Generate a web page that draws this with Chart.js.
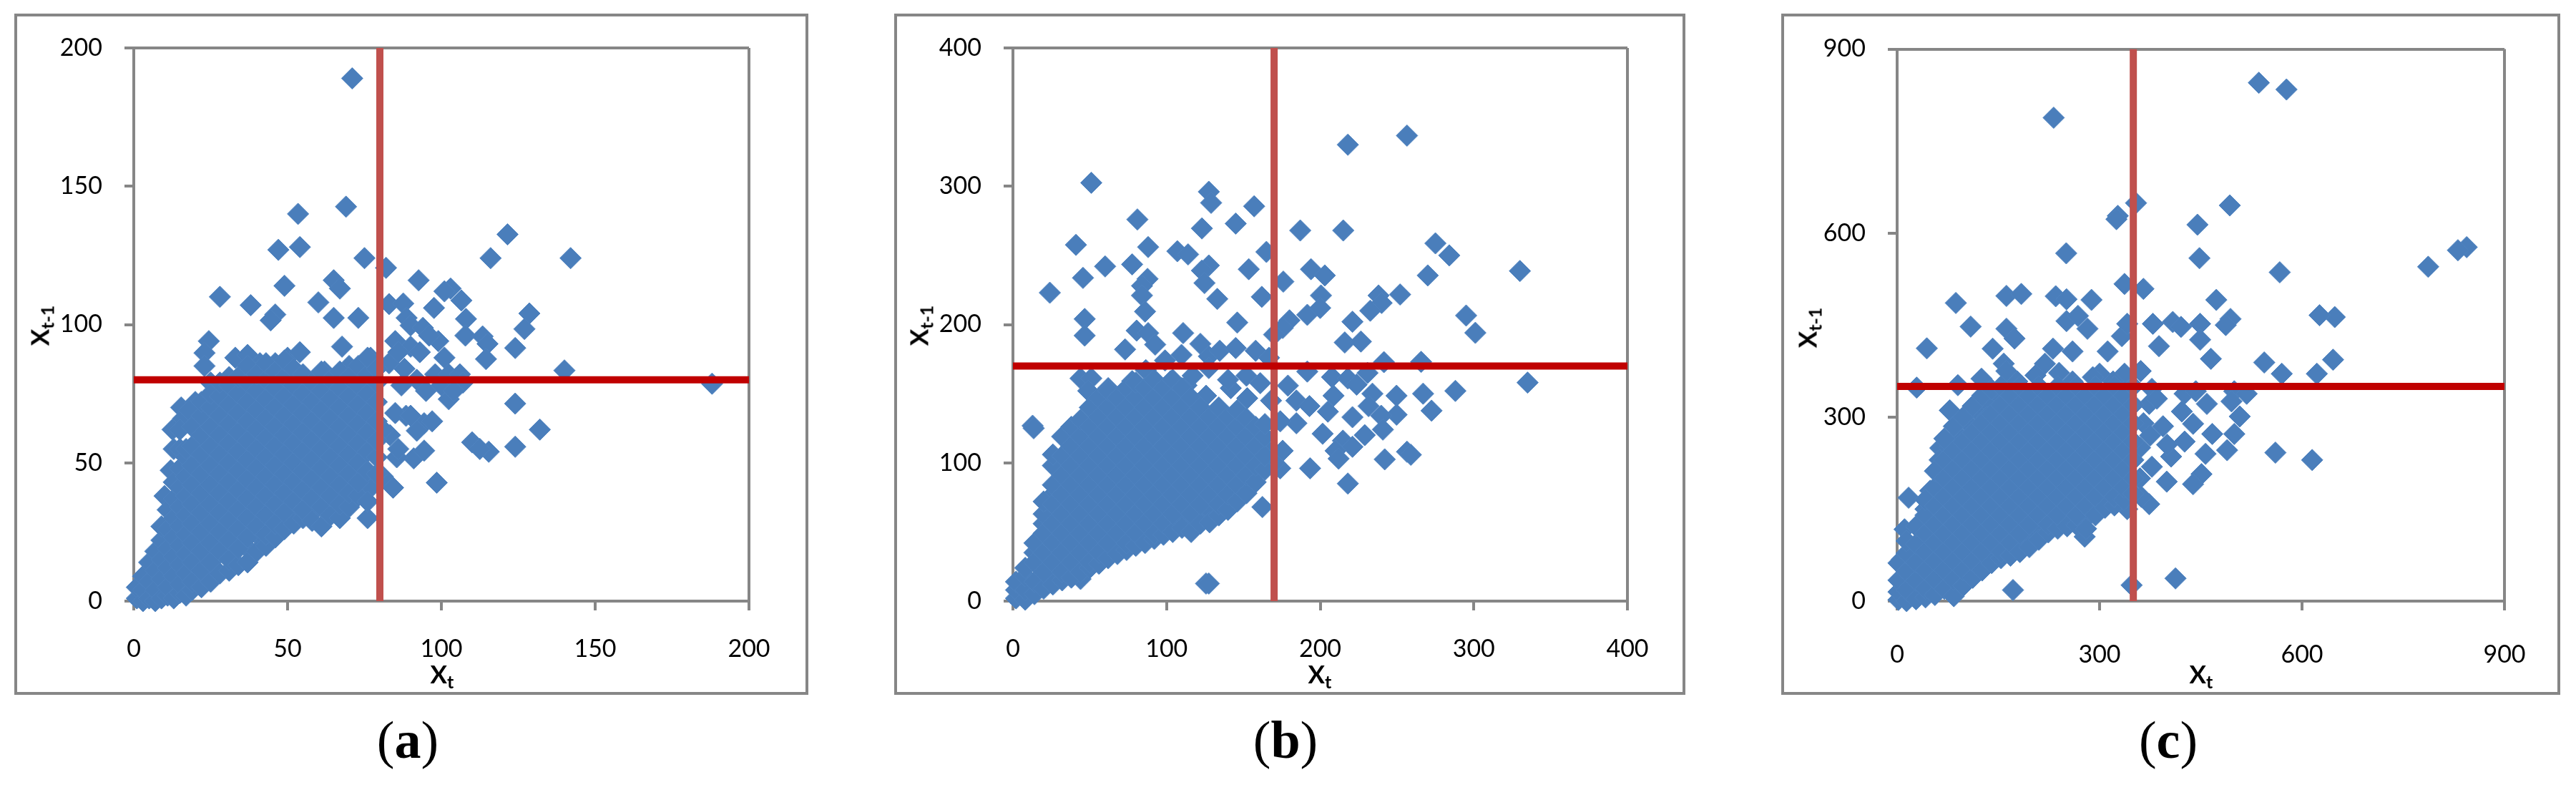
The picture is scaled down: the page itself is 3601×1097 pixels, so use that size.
<!DOCTYPE html>
<html lang="en">
<head>
    <meta charset="UTF-8">
    <title>Lag plots of Xt against Xt-1</title>
    <style>
        body { margin: 0; background: #fff; width: 3601px; height: 1097px; position: relative; overflow: hidden; }
        .frame { position: absolute; box-sizing: border-box; border: 4px solid #868686; }
        .frame canvas { position: absolute; left: 0; top: 0; }
        .label { position: absolute; font: bold 35px Lato, sans-serif; color: #000; white-space: nowrap; transform: translate(-50%, -50%); line-height: 1; }
        .label.rot { transform: translate(-50%, -50%) rotate(-90deg); }
        .label sub { font-size: 25px; vertical-align: -7px; line-height: 0; }
        .caption { position: absolute; font: 74px "Liberation Serif", serif; color: #000; transform: translate(-50%, -50%); line-height: 1; }
    </style>
</head>
<body>
    <div class="frame" id="frameA"><canvas id="chartA"></canvas></div>
    <div class="frame" id="frameB"><canvas id="chartB"></canvas></div>
    <div class="frame" id="frameC"><canvas id="chartC"></canvas></div>

    <div class="label" style="left:618px;top:941px">X<sub>t</sub></div>
    <div class="label rot" style="left:55px;top:455px">X<sub>t-1</sub></div>
    <div class="label" style="left:1845px;top:941px">X<sub>t</sub></div>
    <div class="label rot" style="left:1284px;top:455px">X<sub>t-1</sub></div>
    <div class="label" style="left:3077px;top:941px">X<sub>t</sub></div>
    <div class="label rot" style="left:2526px;top:458px">X<sub>t-1</sub></div>

    <div class="caption" style="left:570px;top:1034px">(<b>a</b>)</div>
    <div class="caption" style="left:1797px;top:1034px">(<b>b</b>)</div>
    <div class="caption" style="left:3031px;top:1034px">(<b>c</b>)</div>

    <script src="https://cdn.jsdelivr.net/npm/chart.js"></script>
    <script>
        // values, [Xt, Xt-1]
        const pointsA = [
            [71,189],[69,142.6],[53.4,140],[121.5,132.6],[47,127],[54,128],[75,124],[116,124],[142,124],[82,120.5],
            [92.6,116],[65,116],[67,113],[49,114],[103,113],[101,112],[106.5,108.7],[28,110],[38,107],[60,108],
            [97.6,106],[83,107.4],[87.6,107.6],[128.6,104],[127,98.4],[46,103.6],[44.5,101.5],[65,102.4],[73,102.4],
            [108,102],[107.8,96],[88.7,102.4],[90,99.7],[94,98.8],[99,94],[113.4,95.7],[115,93],[85,94],[67.7,92],
            [124,91.5],[24.4,94],[23,89.7],[114.5,87.5],[140,83.4],[188,78.6],[124,71.4],[132,62],[124,55.8],[110,57.4],
            [115.4,54],[112.5,55],[98.5,42.8],[84.3,41],[91,51.6],[94.4,54.4],[85.5,52],[102.4,73],[94.4,64.3],[92,61.6],
            [97,65],[88.5,67],[83.3,60],[83,86],[87,78],[85,68],[90,67],[88,84],[92,80],[95,76],[98,82],[101,88],[100,78],
            [102.4,82],[106,82],[107,79],[104,76],[90,92],[86,90],[93,90],[96,96],[81,45],[81,62],[86,55],[33,88],[37,89],
            [41,86],[46,86],[50,88],[54,90],[62,83],[70,85],[74,85],[77,88],[31,81],[23,85],[25,79],
            [15.4,70],[12.6,62],[13,55],[12,47.3],[15,55],[16,66],[20,72],[10,38],[41,23],[38,18],[53,32],[59,33],[77,41],
            [1,1],[1,5],[3,0],[3,4],[3,9],[5,1],[5,7],[5,14],[7,0],[7,4],[7,11],[7,18],[9,1],[9,8],[9,15],[9,22],[9,27],
            [11,2],[11,5],[11,12],[11,19],[11,26],[11,33],[13,1],[13,9],[13,16],[13,23],[13,30],[13,37],[13,43],
            [15,3],[15,6],[15,13],[15,20],[15,27],[15,34],[15,41],[15,48],[15,62],[17,2],[17,10],[17,17],[17,24],[17,31],[17,38],[17,45],[17,52],[17,55],[18,69],
            [19,4],[19,7],[19,14],[19,21],[19,28],[19,35],[19,42],[19,49],[19,56],[19,63],
            [22,5],[22,11],[22,18],[22,25],[22,32],[22,39],[22,46],[22,53],[22,60],[22,67],[22,72],
            [25,7],[25,14],[25,21],[25,28],[25,35],[25,42],[25,49],[25,56],[25,63],[25,70],[25,75],
            [28,10],[28,18],[28,25],[28,32],[28,39],[28,46],[28,53],[28,60],[28,67],[28,74],[28,79],
            [31,11],[31,15],[31,22],[31,29],[31,36],[31,43],[31,50],[31,57],[31,64],[31,71],[31,78],
            [34,13],[34,19],[34,26],[34,33],[34,40],[34,47],[34,54],[34,61],[34,68],[34,75],[34,81],
            [37,14],[37,23],[37,30],[37,37],[37,44],[37,51],[37,58],[37,65],[37,72],[37,79],[37,85],
            [40,18],[40,27],[40,34],[40,41],[40,48],[40,55],[40,62],[40,69],[40,76],[40,82],
            [43,20],[43,24],[43,31],[43,38],[43,45],[43,52],[43,59],[43,66],[43,73],[43,80],[43,86],
            [46,23],[46,28],[46,35],[46,42],[46,49],[46,56],[46,63],[46,70],[46,77],[46,83],
            [49,26],[49,32],[49,39],[49,46],[49,53],[49,60],[49,67],[49,74],[49,81],[49,87],
            [52,28],[52,36],[52,43],[52,50],[52,57],[52,64],[52,71],[52,78],[52,84],
            [55,30],[55,33],[55,40],[55,47],[55,54],[55,61],[55,68],[55,75],[55,82],
            [58,29],[58,37],[58,44],[58,51],[58,58],[58,65],[58,72],[58,79],
            [61,27],[61,34],[61,41],[61,48],[61,55],[61,62],[61,69],[61,76],[61,83],
            [64,31],[64,38],[64,45],[64,52],[64,59],[64,66],[64,73],[64,80],
            [67,30],[67,35],[67,42],[67,49],[67,56],[67,63],[67,70],[67,77],[67,83],
            [70,34],[70,39],[70,46],[70,53],[70,60],[70,67],[70,74],[70,81],
            [73,38],[73,43],[73,50],[73,57],[73,64],[73,71],[73,78],[73,85],
            [76,30],[76,36],[76,47],[76,54],[76,61],[76,68],[76,75],[76,82],[76,88],
            [79,46],[79,52],[79,58],[79,65],[79,72],[79,79],[79,84]
        ];

        const pointsB = [
            [218,330],[256.5,336.6],[51,302.5],[127.5,296],[129,288],[157,285.5],[81,276],[145,273],[123,269.5],[187,268],
            [215,268],[275,258.7],[41,257.6],[88,256],[284,250],[107,253],[114,250.7],[165,252.5],[60,242],[77.6,243.5],
            [45.6,233.7],[87.6,233],[127.5,242.7],[123,239],[153.5,240],[194,240],[203,235.5],[270,235.5],[330,238.7],
            [124.7,230],[176,231],[84,228],[24,223],[84,221],[162,220],[133,218.5],[200.5,221],[252,221.7],[238,221],
            [240,215.6],[232.6,210],[86,209.4],[295,206.5],[301,194],[191.6,207],[200,212],[180,203],[175.6,197.5],
            [170,192.7],[46.7,204],[146,201.4],[221,202],[46.7,192],[80.5,195.6],[88,193.8],[110.8,193.8],[122,186],
            [216,187],[226.5,187.7],[73,182],[92.6,185.5],[109.7,178],[241.5,172.8],[265.7,173],[191.6,166],[207.7,162],
            [230.8,165],[218,161],[223.7,156.5],[288,152],[267,150],[249.7,148.5],[234,150],[208.7,148.5],[231.5,141],
            [272.5,137.7],[249.7,134.8],[221,133],[239.7,134],[205,137],[201.6,121],[240.8,124],[229,120],[214.8,116],
            [221,111.6],[210,108.7],[212,103],[256.5,108],[259,105.8],[242,102.5],[193.4,96],[218,85],[162.4,68],
            [125.7,12.7],[127.5,12.7],[335,158],[12.8,126.8],[13.5,125],[44,161],[51,161],[49,152],[62,154],[70.5,150],
            [77.6,159],[86.5,167],[99,174],[127.5,177],[134.6,181],[145,183],[158,181],[166.7,176],[113,156],[125.7,148.5],
            [141.8,154],[152.5,146.7],[152,163],[161,157.6],[179,155.8],[184.5,145],[193,141],[184.5,128.6],[175.6,108.7],
            [174,96],[174,130],[92,159],[102.6,159],[117,163],[127.5,168.5],[165,110],[170,100],[44,16],[140,160],[168,145],
            [20,15],[26,20],[32,28],[38,22],[44,28],[50,35],[56,42],[62,36],[68,41],[74,48],[80,56],[86,49],[92,56],[98,63],
            [104,56],[110,62],[116,56],[122,63],[128,66],[134,76],[140,84],[146,78],[152,84],[158,92],
            [20,56],[26,77],[32,98],[38,119],[44,126],[62,147],[68,140],[80,154],[14,35],[20,42],[26,63],[32,84],[38,105],
            [2,2],[2,8],[2,14],[8,1],[8,8],[8,18],[8,24],[14,5],[14,14],[14,28],[14,42],
            [20,9],[20,21],[20,35],[20,49],[20,63],[20,72],
            [26,12],[26,28],[26,42],[26,56],[26,70],[26,84],[26,98],[26,106],
            [32,15],[32,21],[32,35],[32,49],[32,63],[32,77],[32,91],[32,105],[32,119],
            [38,17],[38,28],[38,42],[38,56],[38,70],[38,84],[38,98],[38,112],[38,126],
            [44,21],[44,35],[44,49],[44,63],[44,77],[44,91],[44,105],[44,119],[44,131],
            [50,24],[50,28],[50,42],[50,56],[50,70],[50,84],[50,98],[50,112],[50,126],[50,140],
            [56,27],[56,35],[56,49],[56,63],[56,77],[56,91],[56,105],[56,119],[56,133],[56,147],
            [62,31],[62,42],[62,56],[62,70],[62,84],[62,98],[62,112],[62,126],[62,140],[62,152],
            [68,34],[68,49],[68,63],[68,77],[68,91],[68,105],[68,119],[68,133],[68,147],
            [74,37],[74,42],[74,56],[74,70],[74,84],[74,98],[74,112],[74,126],[74,140],[74,154],
            [80,40],[80,49],[80,63],[80,77],[80,91],[80,105],[80,119],[80,133],[80,147],[80,158],
            [86,42],[86,56],[86,70],[86,84],[86,98],[86,112],[86,126],[86,140],[86,154],
            [92,45],[92,49],[92,63],[92,77],[92,91],[92,105],[92,119],[92,133],[92,147],[92,160],
            [98,48],[98,56],[98,70],[98,84],[98,98],[98,112],[98,126],[98,140],[98,154],
            [104,50],[104,63],[104,77],[104,91],[104,105],[104,119],[104,133],[104,147],[104,160],
            [110,53],[110,70],[110,84],[110,98],[110,112],[110,126],[110,140],[110,154],
            [116,50],[116,63],[116,77],[116,91],[116,105],[116,119],[116,133],[116,147],
            [122,56],[122,70],[122,84],[122,98],[122,112],[122,126],[122,140],
            [128,57],[128,77],[128,91],[128,105],[128,119],[128,133],
            [134,62],[134,70],[134,84],[134,98],[134,112],[134,126],[134,140],
            [140,66],[140,77],[140,91],[140,105],[140,119],[140,133],
            [146,72],[146,84],[146,98],[146,112],[146,126],[146,138],
            [152,78],[152,91],[152,105],[152,119],[152,132],
            [158,86],[158,98],[158,112],[158,126],
            [164,95],[164,105],[164,119],[164,128]
        ];

        const pointsC = [
            [536,845],[577,834],[232,788],[354,649],[493,645],[327,628],[325,622.6],[445,613.6],[250.6,567],[448,559],
            [567,536],[844,577],[831,572],[787,545],[648.5,463],[626,466],[494,460],[487,450],[473,491],[449,452],
            [449,426],[465,395],[544,389],[570,370.6],[622,370.6],[646,393.5],[560.6,242],[615,230],[412.5,37],[347.5,26],
            [171.7,18],[337,517],[365,509],[235,497],[251,492],[288,491],[162,497.5],[184,500.7],[87,486],[109,447.5],
            [44,412],[162,444],[174,428],[141.6,411.5],[158,387],[162,375],[125,362.5],[29,348],[90,352],[78,311],
            [64,249.5],[17,168.5],[11,117],[7,68],[251,456.5],[268,465],[282,444],[260,407],[231,411.5],[219,387],
            [312,407],[333,432],[341,452],[379,452],[408.5,455],[420.7,447],[388,415.6],[361,375],[337,370.6],[300,370.6],
            [260,358],[377.5,346],[426,338],[442.6,342],[499.6,342],[518,338],[373.5,321.5],[422,309],[459,321.5],
            [495.5,325.6],[507.7,301],[394,285],[438.6,289],[467,272.5],[499.6,272.5],[489,246],[457,240],[451,207],
            [438.6,190.6],[399.5,194.7],[406,235.6],[377.5,219],[373.5,158],[341,150],[278,105],[426,260],[365,290],[385,330],
            [360,250],[375,270],[360,200],[362,170],[400,255],[205,368],[178,358],[240,372],[290,365],[320,358],
            [14,33],[14,63],[28,18],[28,48],[28,78],[42,35],[42,65],[42,95],[42,125],[56,22],[56,50],[56,80],[70,35],[70,65],[70,95],
            [84,20],[84,50],[84,80],[98,38],[98,65],[112,50],[112,80],[126,65],[140,78],[154,95],[168,110],[182,95],[196,105],
            [210,120],[224,140],[238,130],[252,140],[266,155],[280,135],[294,155],[308,170],[336,175],
            [63,230],[77,250],[91,270],[105,290],[119,310],[133,325],[147,340],[49,180],[42,150],[63,205],[77,225],[91,245],[105,262],[119,280],[133,300],
            [2,2],[2,15],[2,34],[2,62],[14,0],[14,18],[14,48],[14,78],[14,98],
            [28,3],[28,33],[28,63],[28,93],[28,122],
            [42,6],[42,20],[42,50],[42,80],[42,110],[42,140],[42,165],
            [56,10],[56,35],[56,65],[56,95],[56,125],[56,155],[56,185],[56,212],
            [70,20],[70,50],[70,80],[70,110],[70,140],[70,170],[70,200],[70,230],[70,265],
            [84,8],[84,35],[84,65],[84,95],[84,125],[84,155],[84,185],[84,215],[84,245],[84,285],
            [98,25],[98,50],[98,80],[98,110],[98,140],[98,170],[98,200],[98,230],[98,260],[98,300],
            [112,38],[112,65],[112,95],[112,125],[112,155],[112,185],[112,215],[112,245],[112,275],[112,318],
            [126,50],[126,80],[126,110],[126,140],[126,170],[126,200],[126,230],[126,260],[126,290],[126,335],
            [140,62],[140,95],[140,125],[140,155],[140,185],[140,215],[140,245],[140,275],[140,305],[140,345],
            [154,70],[154,80],[154,110],[154,140],[154,170],[154,200],[154,230],[154,260],[154,290],[154,320],[154,350],
            [168,74],[168,95],[168,125],[168,155],[168,185],[168,215],[168,245],[168,275],[168,305],[168,335],
            [182,80],[182,110],[182,140],[182,170],[182,200],[182,230],[182,260],[182,290],[182,320],[182,350],
            [196,88],[196,125],[196,155],[196,185],[196,215],[196,245],[196,275],[196,305],[196,335],
            [210,100],[210,140],[210,170],[210,200],[210,230],[210,260],[210,290],[210,320],[210,350],
            [224,112],[224,125],[224,155],[224,185],[224,215],[224,245],[224,275],[224,305],[224,335],
            [238,118],[238,140],[238,170],[238,200],[238,230],[238,260],[238,290],[238,320],[238,350],
            [252,122],[252,155],[252,185],[252,215],[252,245],[252,275],[252,305],[252,335],
            [266,124],[266,140],[266,170],[266,200],[266,230],[266,260],[266,290],[266,320],[266,350],
            [280,118],[280,155],[280,185],[280,215],[280,245],[280,275],[280,305],[280,335],
            [294,140],[294,170],[294,200],[294,230],[294,260],[294,290],[294,320],[294,350],
            [308,152],[308,185],[308,215],[308,245],[308,275],[308,305],[308,335],
            [322,156],[322,170],[322,200],[322,230],[322,260],[322,290],[322,320],[322,350],
            [336,165],[336,185],[336,215],[336,245],[336,275],[336,305],[336,335],
            [350,175],[350,200],[350,230],[350,260],[350,290],[350,320],[350,350]
        ];

        const axisMaxA = 200, axisMaxB = 400, axisMaxC = 900;
        const tickStepA = 50, tickStepB = 100, tickStepC = 300;
        const meanLineA = 80, meanLineB = 170, meanLineC = 350;

        const GREY = '#868686';
        const TICK_LEN = 13;

        function drawPanel(name, points, axisMax, tickStep, meanLine, frame, plot, xPad) {
            const box = document.getElementById('frame' + name);
            box.style.left = frame.left + 'px';
            box.style.top = frame.top + 'px';
            box.style.width = frame.width + 'px';
            box.style.height = frame.height + 'px';

            const canvas = document.getElementById('chart' + name);
            canvas.width = frame.width - 8;
            canvas.height = frame.height - 8;

            // scale boxes clip their labels, so they have to be roomy
            const yWidth = 125, xHeight = 105;
            const innerLeft = frame.left + 4, innerTop = frame.top + 4;
            const padding = {
                left: plot.left - innerLeft - yWidth,
                top: plot.top - innerTop,
                right: innerLeft + canvas.width - plot.right,
                bottom: innerTop + canvas.height - plot.bottom - xHeight
            };

            // ticks.padding also feeds the scale's own padding, which would squeeze the plot
            function fitAxis(scale, size) {
                scale.paddingLeft = scale.paddingRight = scale.paddingTop = scale.paddingBottom = 0;
                if (scale.isHorizontal()) scale.height = size;
                else scale.width = size;
            }

            function axis(size, tickPad) {
                return {
                    min: 0,
                    max: axisMax,
                    afterFit: s => fitAxis(s, size),
                    border: { color: GREY, width: 4 },
                    grid: {
                        lineWidth: 4,
                        tickLength: TICK_LEN,
                        tickColor: GREY,
                        // only the far edge of the box, no grid inside
                        color: ctx => (ctx.tick && ctx.tick.value === axisMax) ? GREY : 'rgba(0,0,0,0)'
                    },
                    ticks: {
                        stepSize: tickStep,
                        padding: tickPad,
                        autoSkip: false,
                        maxRotation: 0,
                        color: '#000',
                        font: { family: 'Lato', size: 34 }
                    }
                };
            }

            new Chart(canvas, {
                type: 'scatter',
                data: {
                    datasets: [
                        {
                            label: 'Xt-1 threshold',
                            data: [{ x: 0, y: meanLine }, { x: axisMax, y: meanLine }],
                            showLine: true,
                            borderColor: '#C00000',
                            borderWidth: 10,
                            pointRadius: 0,
                            order: 0
                        },
                        {
                            label: 'Xt threshold',
                            data: [{ x: meanLine, y: 0 }, { x: meanLine, y: axisMax }],
                            showLine: true,
                            borderColor: '#C0504D',
                            borderWidth: 10,
                            pointRadius: 0,
                            order: 1
                        },
                        {
                            label: 'Xt vs Xt-1',
                            data: points.map(p => ({ x: p[0], y: p[1] })),
                            pointStyle: 'rectRot',
                            pointRadius: 15,
                            backgroundColor: '#4A7EBB',
                            borderColor: '#4F83C0',
                            borderWidth: 1,
                            clip: false,
                            order: 2
                        }
                    ]
                },
                options: {
                    responsive: false,
                    animation: false,
                    layout: { padding: padding, autoPadding: false },
                    plugins: { legend: { display: false }, tooltip: { enabled: false } },
                    scales: { x: axis(xHeight, xPad), y: axis(yWidth, 31) }
                }
            });
        }

        drawPanel('A', pointsA, axisMaxA, tickStepA, meanLineA,
            { left: 20, top: 19, width: 1110, height: 952 },
            { left: 187, top: 67, right: 1047, bottom: 840 }, 34);
        drawPanel('B', pointsB, axisMaxB, tickStepB, meanLineB,
            { left: 1250, top: 19, width: 1106, height: 952 },
            { left: 1416, top: 67, right: 2275, bottom: 840 }, 34);
        drawPanel('C', pointsC, axisMaxC, tickStepC, meanLineC,
            { left: 2490, top: 19, width: 1089, height: 952 },
            { left: 2652, top: 68.5, right: 3501, bottom: 840 }, 42);
    </script>
</body>
</html>
